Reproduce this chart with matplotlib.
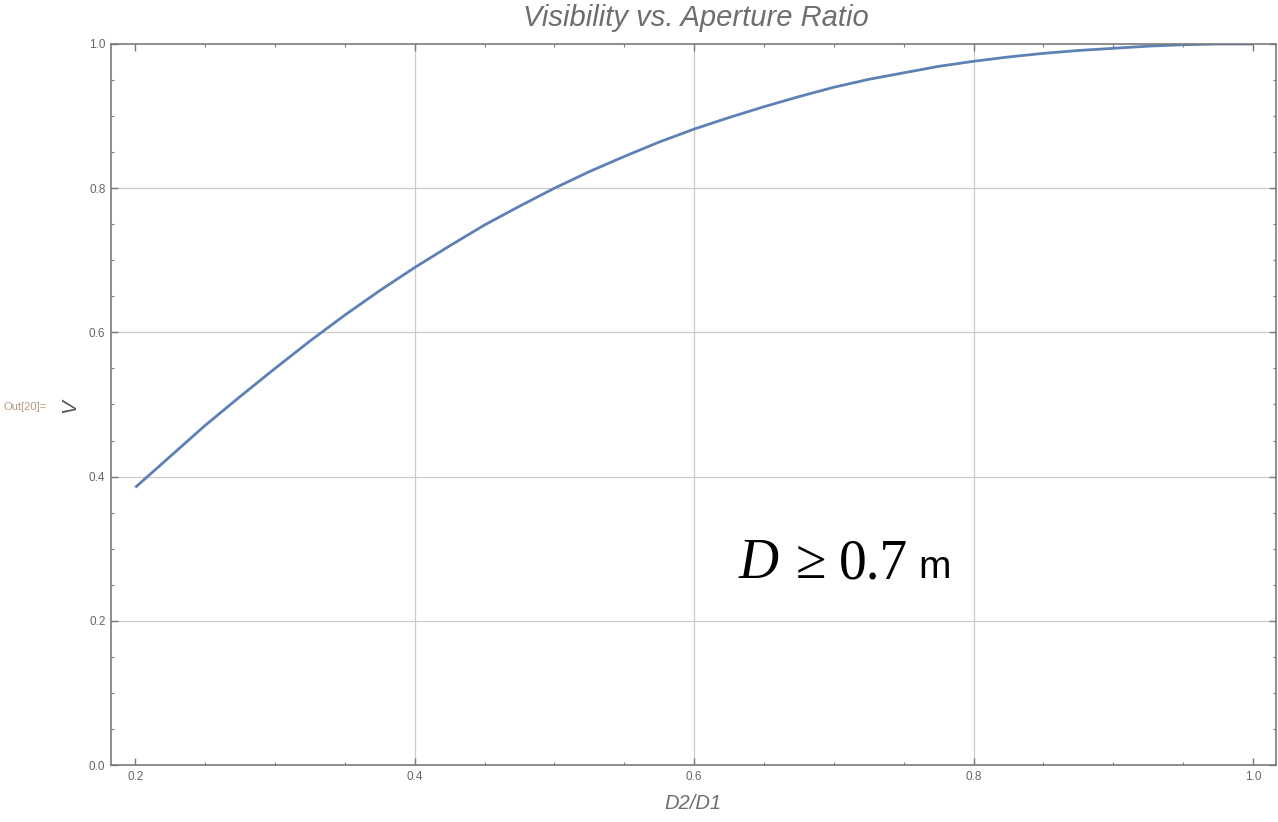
import numpy as np
import matplotlib
matplotlib.use("Agg")
import matplotlib.pyplot as plt
from matplotlib.ticker import MultipleLocator

# aperture ratio D2/D1 and visibility
ratio = [0.200, 0.225, 0.250, 0.275, 0.300, 0.325, 0.350, 0.375, 0.400,
         0.425, 0.450, 0.475, 0.500, 0.525, 0.550, 0.575, 0.600,
         0.625, 0.650, 0.675, 0.700, 0.725, 0.750, 0.775, 0.800,
         0.825, 0.850, 0.875, 0.900, 0.925, 0.950, 0.975, 1.000]
visibility = [0.385, 0.428, 0.471, 0.511, 0.550, 0.588, 0.624, 0.658, 0.690,
              0.720, 0.749, 0.775, 0.800, 0.823, 0.844, 0.864, 0.882,
              0.898, 0.913, 0.927, 0.940, 0.951, 0.960, 0.969, 0.976,
              0.982, 0.987, 0.991, 0.994, 0.997, 0.999, 1.000, 1.000]

x_ticks = [0.2, 0.4, 0.6, 0.8, 1.0]
y_ticks = [0.0, 0.2, 0.4, 0.6, 0.8, 1.0]

line_col = "#5E81B5"
frame_col = "#7a7a7a"
text_col = "#666666"

fig = plt.figure(figsize=(12.78, 8.22), dpi=100)
ax = fig.add_axes([111 / 1278, 1 - 765 / 822, (1276 - 111) / 1278, (765 - 44) / 822])

ax.plot(ratio, visibility, color=line_col, lw=2.0, solid_capstyle="butt")

ax.set_xlim(0.1826, 1.0165)
ax.set_ylim(0.0, 1.0)
ax.set_xticks(x_ticks)
ax.set_yticks(y_ticks)
ax.xaxis.set_minor_locator(MultipleLocator(0.05))
ax.yaxis.set_minor_locator(MultipleLocator(0.05))
ax.set_xticklabels([f"{t:.1f}" for t in x_ticks])
ax.set_yticklabels([f"{t:.1f}" for t in y_ticks])

ax.tick_params(which="both", direction="in", top=True, right=True,
               color=frame_col, labelcolor=text_col, labelsize=8.5,
               labeltop=False, labelright=False)
ax.tick_params(which="major", length=5, width=1, pad=4)
ax.tick_params(which="minor", length=2.5, width=0.8)
for lbl in ax.get_xticklabels() + ax.get_yticklabels():
    lbl.set_family("Liberation Sans")
for s in ax.spines.values():
    s.set_color(frame_col)
    s.set_linewidth(1.2)

# grid only at inner major positions
for gx in [0.4, 0.6, 0.8]:
    ax.axvline(gx, color="#cccccc", lw=0.9, zorder=0)
for gy in [0.2, 0.4, 0.6, 0.8]:
    ax.axhline(gy, color="#cccccc", lw=0.9, zorder=0)

fig.text(696 / 1278, 1 - 18 / 822, "Visibility vs. Aperture Ratio", ha="center", va="center",
         fontsize=21, style="italic", color="#6e6e6e", family="Liberation Sans")
fig.text(693 / 1278, 1 - 803 / 822, "D2/D1", ha="center", va="center",
         fontsize=14.5, style="italic", color="#6e6e6e", family="Liberation Sans")
fig.text(70 / 1278, 1 - 406 / 822, "V", ha="center", va="center", rotation=90,
         fontsize=15, style="italic", color="#555555", family="Liberation Sans")
fig.text(4 / 1278, 1 - 407 / 822, "Out[20]=", ha="left", va="center",
         fontsize=8, color="#b89a80", family="Liberation Sans")

# annotation  D >= 0.7 m
base = 1 - 578 / 822
fig.text(739 / 1278, base, "D", ha="left", va="baseline", fontsize=40,
         style="italic", family="Liberation Serif", color="black")
fig.text(796 / 1278, base, "\u2265", ha="left", va="baseline", fontsize=40,
         family="Liberation Serif", color="black")
fig.text(839 / 1278, base, "0.7", ha="left", va="baseline", fontsize=40,
         family="Liberation Serif", color="black")
fig.text(918 / 1278, base, "m", ha="left", va="baseline", fontsize=28,
         family="Liberation Sans", color="black")

fig.savefig("out.png", dpi=100)
